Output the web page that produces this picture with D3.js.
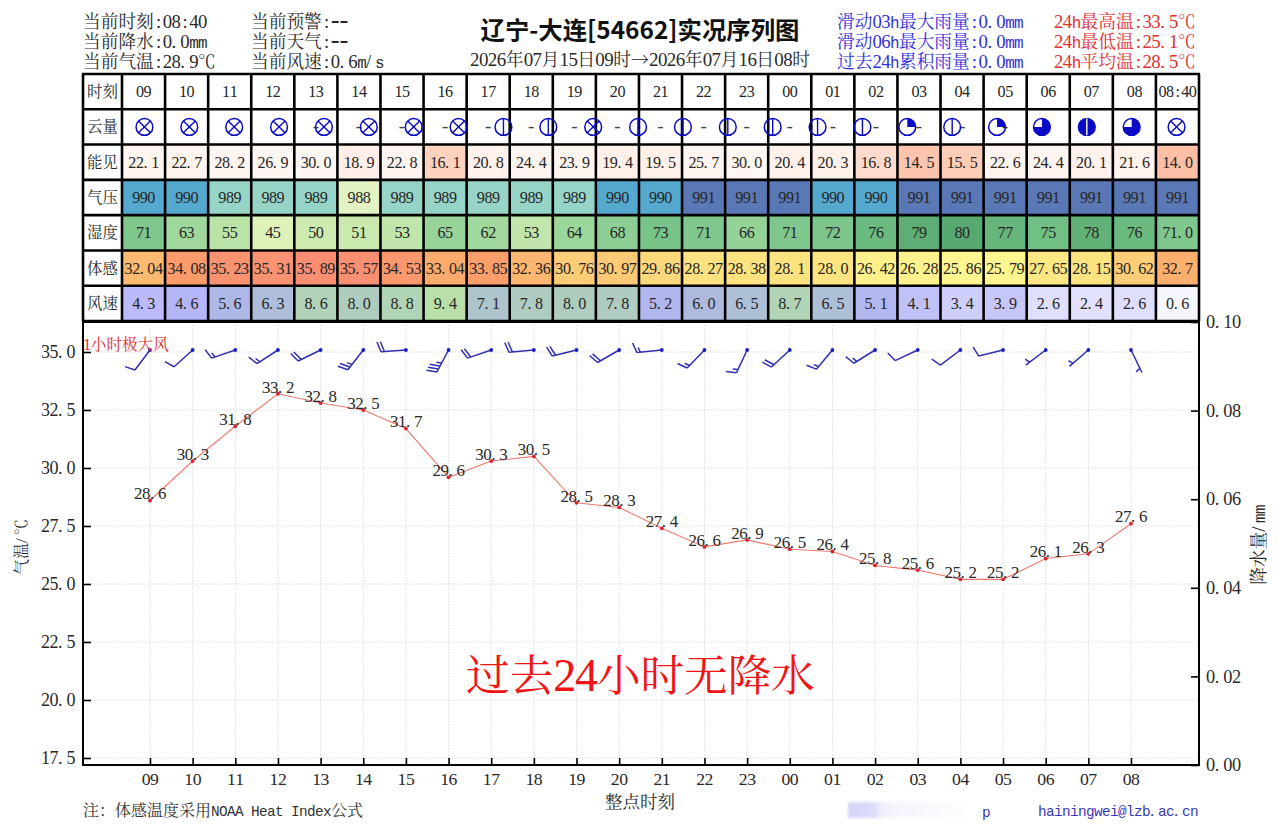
<!DOCTYPE html>
<html>
<head>
<meta charset="utf-8">
<script src="https://cdn.jsdelivr.net/npm/d3@7/dist/d3.min.js"></script>
<style>
html,body{margin:0;padding:0;background:#fff}
svg{display:block}
</style>
</head>
<body>
<svg id="chart" width="1280" height="831"></svg>
<script>
// Station observations, one entry per hour
const hourLabels = ["09","10","11","12","13","14","15","16","17","18","19","20","21","22","23","00","01","02","03","04","05","06","07","08"];
const columnLabels = [...hourLabels, "08:40"];
const rowTitles = ["时刻","云量","能见","气压","湿度","体感","风速"];
const temperature = [28.6,30.3,31.8,33.2,32.8,32.5,31.7,29.6,30.3,30.5,28.5,28.3,27.4,26.6,26.9,26.5,26.4,25.8,25.6,25.2,25.2,26.1,26.3,27.6];
const visibility = ["22.1","22.7","28.2","26.9","30.0","18.9","22.8","16.1","20.8","24.4","23.9","19.4","19.5","25.7","30.0","20.4","20.3","16.8","14.5","15.5","22.6","24.4","20.1","21.6","14.0"];
const pressure = ["990","990","989","989","989","988","989","989","989","989","989","990","990","991","991","991","990","990","991","991","991","991","991","991","991"];
const humidity = ["71","63","55","45","50","51","53","65","62","53","64","68","73","71","66","71","72","76","79","80","77","75","78","76","71.0"];
const feelsLike = ["32.04","34.08","35.23","35.31","35.89","35.57","34.53","33.04","33.85","32.36","30.76","30.97","29.86","28.27","28.38","28.1","28.0","26.42","26.28","25.86","25.79","27.65","28.15","30.62","32.7"];
const windSpeed = ["4.3","4.6","5.6","6.3","8.6","8.0","8.8","9.4","7.1","7.8","8.0","7.8","5.2","6.0","6.5","8.7","6.5","5.1","4.1","3.4","3.9","2.6","2.4","2.6","0.6"];
// Cloud cover code per hour: 9 obscured, otherwise oktas
const cloudCover = [9,9,9,9,9,9,9,9,1,1,9,1,1,1,1,1,1,2,1,2,6,7,6,9];
const cloudDashColumns = ["13","14","15","16","17","18","19","20","21","22","23","00","01","02","03","04","05"];
// Hourly peak gust: direction in degrees, speed in m/s
const gustDirection = [217,228,251,237,244,218,266,208,251,265,256,240,264,224,205,227,220,238,245,233,256,233,229,154];
const gustSpeed = [4,4,6,6,8,10,8,14,8,8,8,8,6,6,6,8,6,6,4,4,4,2,2,2];
const tempTicks = [17.5,20,22.5,25,27.5,30,32.5,35];
const rainTicks = [0,0.02,0.04,0.06,0.08,0.1];
const headerLeft = ["当前时刻:08:40","当前降水:0.0mm","当前气温:28.9℃"];
const headerMid = ["当前预警:--","当前天气:--","当前风速:0.6m/s"];
const headerRain = ["滑动03h最大雨量:0.0mm","滑动06h最大雨量:0.0mm","过去24h累积雨量:0.0mm"];
const headerTemp = ["24h最高温:33.5℃","24h最低温:25.1℃","24h平均温:28.5℃"];

const serif = "'Noto Serif CJK SC','Noto Sans CJK SC','Liberation Serif',serif";
const svg = d3.select("#chart");

// Lays text out on a fixed half/full em grid, the way a bitmap CJK font would
function gridText(parent, str, o) {
  const size = o.size, unit = c => c.charCodeAt(0) > 255 ? size : size / 2;
  const total = d3.sum(Array.from(str), unit);
  let cx = o.x - (o.anchor === "middle" ? total / 2 : o.anchor === "end" ? total : 0);
  const t = parent.append("text").attr("y", o.y + size * 0.36).attr("fill", o.fill || "#2a2a2a")
    .attr("font-size", size).attr("xml:space", "preserve");
  if (o.rotate != null) t.attr("transform", `rotate(${o.rotate} ${o.x} ${o.y})`);
  Array.from(str).forEach(c => {
    const w = unit(c);
    let gx = cx;
    if (c === ":") gx += size * 0.12;
    const sp = t.append("tspan").attr("x", gx).text(c);
    if (c.charCodeAt(0) > 255) sp.attr("font-family", serif);
    else if (/[A-Za-z@]/.test(c)) sp.attr("font-family", "'Liberation Mono',monospace").attr("font-size", size * 0.9);
    else if (c === "-") sp.attr("font-family", "'Liberation Serif',serif").attr("font-size", size * 1.5);
    else sp.attr("font-family", "'Liberation Serif',serif").attr("font-size", size * 1.06);
    cx += w;
  });
  return t;
}

// Header text blocks
const headerY = d3.scalePoint().domain([0,1,2]).range([22,62]);
const headerBlock = (lines, x, fill) => lines.forEach((s,i) => gridText(svg, s, {x, y: headerY(i), size: 17.7, fill}));
headerBlock(headerLeft, 83);
headerBlock(headerMid, 251);
headerBlock(headerRain, 837, "#3030d8");
headerBlock(headerTemp, 1054, "#e23030");
svg.append("text").attr("x", 640).attr("y", 39).attr("text-anchor", "middle")
  .attr("font-family", "'Noto Sans CJK SC',sans-serif").attr("font-weight", 700).attr("font-size", 24.4).attr("fill", "#111")
  .text("辽宁-大连[54662]实况序列图");
gridText(svg, "2026年07月15日09时→2026年07月16日08时", {x: 640, y: 60, size: 17.9, anchor: "middle"});

// Observation table
const tableLeft = 83, titleRight = 122, tableRight = 1199, tableTop = 74, tableBottom = 321;
const col = d3.scaleBand().domain(columnLabels).range([titleRight, tableRight]);
const row = d3.scaleBand().domain(rowTitles).range([tableTop, tableBottom]);

const visColor = d3.scaleLinear().domain([14,16,17,19,22,30]).range(["#fcbfa6","#fdd1bd","#fedfd1","#fff0e9","#fff4ee","#fff7f3"]);
const pressColor = d3.scaleLinear().domain([988,989,990,991]).range(["#e3f2c2","#97d4c8","#55a9cf","#5a78b5"]);
const humColor = d3.scaleLinear().domain([45,55,65,75,80]).range(["#dff3b9","#bae3a8","#98d49a","#70bf84","#58a970"]);
const feelColor = d3.scaleLinear().domain([25.8,28,30,32,34,36]).range(["#fff68f","#fde480","#fdd77a","#fdbb70","#fc9c6a","#fb8c74"]);
const windColor = d3.scaleLinear().domain([0.6,2.5,3.9,4.5,5.6,7.1,8.8,9.4]).range(["#f6f6ff","#e0e0fd","#c6c6fa","#b6b6fb","#aeb8e6","#aec5cc","#b0d5b4","#b8e0a8"]);

const tableRows = [
  {name:"时刻", values: columnLabels, color: () => "#fff"},
  {name:"能见", values: visibility, color: v => visColor(+v)},
  {name:"气压", values: pressure, color: v => pressColor(+v)},
  {name:"湿度", values: humidity, color: v => humColor(+v)},
  {name:"体感", values: feelsLike, color: v => feelColor(+v)},
  {name:"风速", values: windSpeed, color: v => windColor(+v)}
];
const tableG = svg.append("g");
tableRows.forEach(r => {
  tableG.selectAll(null).data(r.values).join("rect")
    .attr("x", (d,i) => col(columnLabels[i])).attr("y", row(r.name))
    .attr("width", col.bandwidth()).attr("height", row.bandwidth())
    .attr("fill", r.color);
  r.values.forEach((v,i) => gridText(tableG, v, {
    x: col(columnLabels[i]) + col.bandwidth()/2, y: row(r.name) + row.bandwidth()/2,
    size: 15.2, anchor: "middle", fill: "#262626"
  }));
});
rowTitles.forEach(t => gridText(tableG, t, {x: (tableLeft+titleRight)/2, y: row(t)+row.bandwidth()/2, size: 15.4, anchor: "middle"}));

// Cloud row: dashes sit on the 25-column grid, symbols on an even 24-slot grid
const cloudY = row("云量") + row.bandwidth()/2;
cloudDashColumns.forEach(c => svg.append("text")
  .attr("x", col(c) + col.bandwidth()/2).attr("y", cloudY + 5).attr("text-anchor", "middle")
  .attr("font-family", "'Liberation Serif',serif").attr("font-size", 19).attr("fill", "#444").text("-"));

const gridLines = svg.append("g").attr("stroke", "#000").attr("stroke-width", 2.6);
d3.range(0, rowTitles.length + 1).forEach(i => {
  const y = i === rowTitles.length ? tableBottom : row(rowTitles[i]);
  gridLines.append("line").attr("x1", tableLeft-1).attr("x2", tableRight+1).attr("y1", y).attr("y2", y);
});
gridLines.append("line").attr("x1", tableLeft).attr("x2", tableLeft).attr("y1", tableTop).attr("y2", tableBottom);
gridLines.append("line").attr("x1", tableRight).attr("x2", tableRight).attr("y1", tableTop).attr("y2", tableBottom);
columnLabels.forEach(c => gridLines.append("line").attr("x1", col(c)).attr("x2", col(c)).attr("y1", tableTop).attr("y2", tableBottom));

const cloudSlot = d3.scaleBand().domain(d3.range(cloudCover.length)).range([titleRight, tableRight]);
const cloudR = 8.4, cloudBlue = "#0a0ac8";
const cloudG = svg.append("g");
cloudCover.forEach((code,i) => {
  const g = cloudG.append("g").attr("transform", `translate(${cloudSlot(i)+cloudSlot.bandwidth()/2},${cloudY})`);
  g.append("circle").attr("r", cloudR).attr("fill", "none").attr("stroke", cloudBlue).attr("stroke-width", 1.5);
  const wedge = a => d3.arc()({innerRadius:0, outerRadius:cloudR, startAngle:0, endAngle:a});
  const stroke = (x1,y1,x2,y2,c) => g.append("line").attr("x1",x1).attr("y1",y1).attr("x2",x2).attr("y2",y2).attr("stroke",c||cloudBlue).attr("stroke-width",1.4);
  if (code === 9) {
    const k = cloudR * Math.SQRT1_2;
    stroke(-k,-k,k,k); stroke(-k,k,k,-k);
  } else if (code === 1) {
    stroke(0,-cloudR,0,cloudR);
  } else if (code === 2) {
    g.append("path").attr("d", wedge(Math.PI/2)).attr("fill", cloudBlue);
  } else if (code === 6) {
    g.append("path").attr("d", wedge(Math.PI*1.5)).attr("fill", cloudBlue);
  } else if (code === 7) {
    g.append("circle").attr("r", cloudR).attr("fill", cloudBlue);
    stroke(0,-cloudR,0,cloudR,"#fff");
  }
});

// Temperature panel
const plot = {left:83, right:1199, top:322, bottom:765};
const x = d3.scaleLinear().domain([0,23]).range([150,1131]);
const y = d3.scaleLinear().domain([17.5,35]).range([758,352]);
const yRain = d3.scaleLinear().domain([0,0.1]).range([plot.bottom, plot.top]);

const grid = svg.append("g").attr("stroke", "#dcdcdc").attr("stroke-width", 1).attr("stroke-dasharray", "1.5 1.5");
grid.selectAll(null).data(tempTicks).join("line")
  .attr("x1", plot.left).attr("x2", plot.right).attr("y1", d=>y(d)).attr("y2", d=>y(d));
grid.selectAll(null).data(hourLabels).join("line")
  .attr("x1", (d,i)=>x(i)).attr("x2", (d,i)=>x(i)).attr("y1", plot.top).attr("y2", plot.bottom);

// Axes: ticks point inward, labels are laid out separately on the character grid
const axisStyle = g => { g.select(".domain").remove(); g.selectAll("text").remove(); g.selectAll("line").attr("stroke","#000").attr("stroke-width",1.6); };
svg.append("g").attr("transform", `translate(${plot.left},0)`)
  .call(d3.axisLeft(y).tickValues(tempTicks).tickSize(-8)).call(axisStyle);
svg.append("g").attr("transform", `translate(${plot.right},0)`)
  .call(d3.axisRight(yRain).tickValues(rainTicks).tickSize(-8)).call(axisStyle);
svg.append("g").attr("transform", `translate(0,${plot.bottom})`)
  .call(d3.axisBottom(x).tickValues(d3.range(hourLabels.length)).tickSize(-7)).call(axisStyle);
svg.append("rect").attr("x", plot.left).attr("y", plot.top).attr("width", plot.right-plot.left).attr("height", plot.bottom-plot.top)
  .attr("fill","none").attr("stroke","#000").attr("stroke-width",2);

tempTicks.forEach(t => gridText(svg, d3.format(".1f")(t), {x:75, y:y(t), size:17, anchor:"end"}));
rainTicks.forEach(t => gridText(svg, d3.format(".2f")(t), {x:1206, y:yRain(t), size:17.3}));
hourLabels.forEach((h,i) => gridText(svg, h, {x:x(i), y:779, size:16.7, anchor:"middle"}));

gridText(svg, "气温/℃", {x:21, y:547, size:16, anchor:"middle", rotate:-90});
gridText(svg, "降水量/mm", {x:1259, y:545, size:17.7, anchor:"middle", rotate:-90});
gridText(svg, "整点时刻", {x:640, y:802, size:17.5, anchor:"middle"});

// Temperature line, points and value labels
const tempLine = d3.line().x((d,i)=>x(i)).y(d=>y(d));
svg.append("path").attr("d", tempLine(temperature)).attr("fill","none").attr("stroke","#ec7a6e").attr("stroke-width",1.1);
svg.selectAll(null).data(temperature).join("circle").attr("cx",(d,i)=>x(i)).attr("cy",d=>y(d)).attr("r",1.9).attr("fill","#e01f2c");
temperature.forEach((t,i) => gridText(svg, d3.format(".1f")(t), {x:x(i), y:y(t)-7, size:16, anchor:"middle"}));

// Wind barbs hanging from a common baseline: 4 m/s full barb, 2 m/s half barb
const barbY = 350, staffLen = 25, barbLen = 10.5, barbGap = 3.4;
const barbG = svg.append("g").attr("fill","none").attr("stroke","#3030b0").attr("stroke-width",1.5);
gustSpeed.forEach((s,i) => {
  const a = gustDirection[i] * Math.PI / 180;
  const ux = Math.sin(a), uy = -Math.cos(a);
  const nx = -uy, ny = ux;
  const x0 = x(i), ex = x0 + ux*staffLen, ey = barbY + uy*staffLen;
  const p = d3.path();
  p.moveTo(x0, barbY); p.lineTo(ex, ey);
  const full = Math.floor(s/4), half = s % 4 >= 2 ? 1 : 0;
  let off = full === 0 ? barbGap * 1.4 : 0;
  const barb = k => {
    const bx = ex - ux*off, by = ey - uy*off;
    p.moveTo(bx, by);
    p.lineTo(bx + k*(nx*barbLen*0.95 + ux*barbLen*0.32), by + k*(ny*barbLen*0.95 + uy*barbLen*0.32));
    off += barbGap;
  };
  d3.range(full).forEach(() => barb(1));
  if (half) barb(0.5);
  barbG.append("path").attr("d", p.toString());
});
svg.selectAll(null).data(gustSpeed).join("circle").attr("cx",(d,i)=>x(i)).attr("cy",barbY).attr("r",1.9).attr("fill","#1c1cc0");
gridText(svg, "1小时极大风", {x:83, y:344, size:15.6, fill:"#e23030"});

// Panel annotation
gridText(svg, "过去24小时无降水", {x:640.5, y:675, size:43.6, anchor:"middle", fill:"#f01414"});

// Footer
gridText(svg, "注：体感温度采用NOAA Heat Index公式", {x:83, y:810, size:16, fill:"#333"});
const defs = svg.append("defs");
const fade = defs.append("linearGradient").attr("id","smudge");
[["0%","#d4d4f8"],["20%","#dcdcfa"],["28%","#f2f2fd"],["70%","#fafafe"],["100%","#ffffff"]].forEach(([o,c]) => fade.append("stop").attr("offset",o).attr("stop-color",c));
defs.append("filter").attr("id","soft").append("feGaussianBlur").attr("stdDeviation",1.5);
svg.append("rect").attr("x",848).attr("y",802).attr("width",128).attr("height",16).attr("fill","url(#smudge)").attr("filter","url(#soft)");
gridText(svg, "p", {x:982, y:811, size:16, fill:"#3a3ab8"});
gridText(svg, "hainingwei@lzb.ac.cn", {x:1038, y:810.5, size:16, fill:"#3a3ab8"});
</script>
</body>
</html>
